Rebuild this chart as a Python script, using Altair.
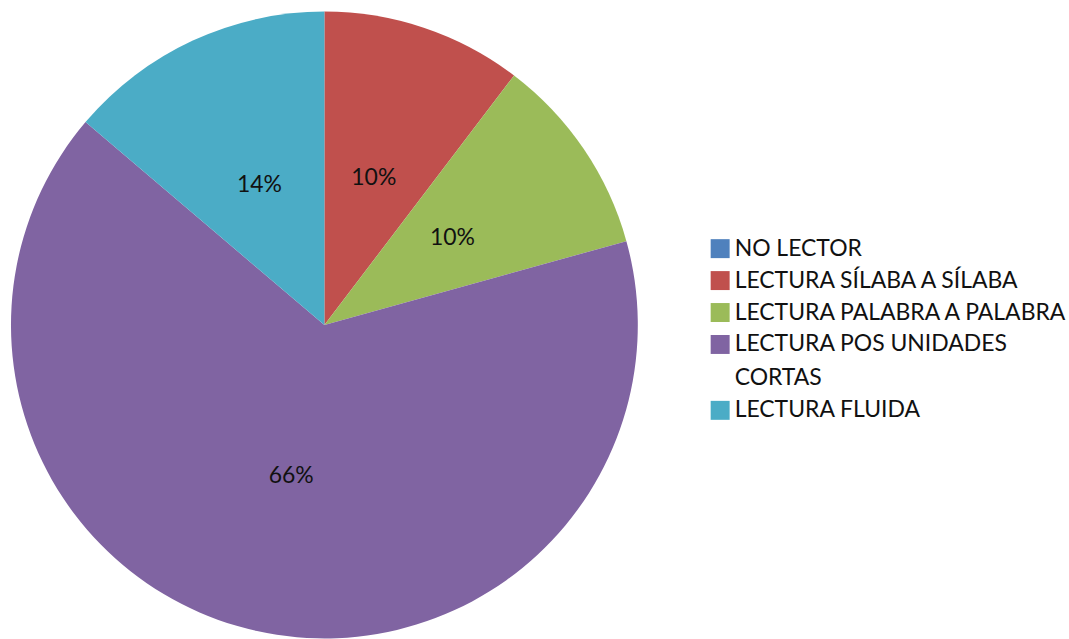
import altair as alt
import pandas as pd

categories = ["NO LECTOR", "LECTURA SÍLABA A SÍLABA", "LECTURA PALABRA A PALABRA",
              "LECTURA POS UNIDADES CORTAS", "LECTURA FLUIDA"]
counts = [0, 3, 3, 19, 4]
labels = ["", "10%", "10%", "66%", "14%"]
colors = ["#4F81BD", "#C0504D", "#9BBB59", "#8064A2", "#4BACC6"]

df = pd.DataFrame({
    "cat": categories,
    "value": counts,
    "label": labels,
    "order": list(range(len(categories))),
})

FONT = "Lato"

base = alt.Chart(df).encode(
    theta=alt.Theta("value:Q", stack=True),
    order=alt.Order("order:Q"),
)

arcs = base.mark_arc(outerRadius=314).encode(
    color=alt.Color(
        "cat:N",
        scale=alt.Scale(domain=categories, range=colors),
        legend=alt.Legend(
            title=None,
            orient="none",
            legendX=710,
            legendY=237,
            symbolType="square",
            symbolSize=361,
            symbolStrokeWidth=0,
            symbolOpacity=1,
            labelFont=FONT,
            labelFontSize=23,
            labelColor="#111111",
            labelLimit=400,
            labelOffset=3,
            rowPadding=8,
            labelExpr="datum.label == 'LECTURA POS UNIDADES CORTAS' ? ['LECTURA POS UNIDADES', 'CORTAS'] : datum.label",
        ),
    )
)

text = base.mark_text(radius=155, font=FONT, fontSize=23, color="#111111").encode(
    text="label:N"
)

chart = (
    (arcs + text)
    .properties(width=650, height=650, padding=0)
    .configure_view(stroke=None)
    .configure(style={"guide-label": alt.MarkConfig(lineHeight=34)})
)

chart.save("out.html", embed_options={"renderer": "svg", "actions": False})
